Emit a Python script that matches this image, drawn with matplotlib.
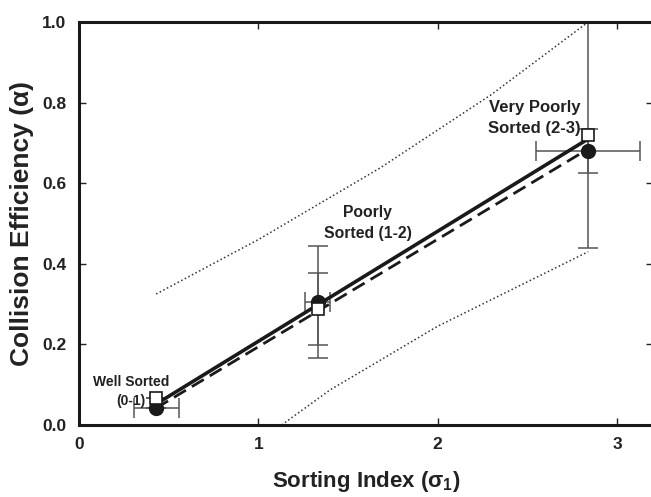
import numpy as np
import matplotlib
matplotlib.use("Agg")
import matplotlib.pyplot as plt

plt.rcParams['font.family'] = ['Liberation Sans', 'DejaVu Sans']
plt.rcParams['font.weight'] = 'bold'
plt.rcParams['mathtext.fontset'] = 'custom'
plt.rcParams['mathtext.rm'] = 'Liberation Sans:bold'
plt.rcParams['mathtext.it'] = 'Liberation Sans:bold'
plt.rcParams['mathtext.bf'] = 'Liberation Sans:bold'

# sorting classes
sort_x = [0.43, 1.33, 2.84]
sort_xerr = [0.125, 0.07, 0.29]

# filled circles
alpha_circ = [0.042, 0.305, 0.68]
err_circ = [0.0, 0.14, 0.055]

# open squares
alpha_sq = [0.067, 0.288, 0.72]
err_sq = [0.0, 0.09, 0.28]

# regression lines (end points)
fit_x = [0.43, 2.84]
fit_solid = [0.052, 0.71]
fit_dash = [0.042, 0.685]

# dotted bands
upper_x = [0.43, 1.0, 1.68, 2.3, 2.84]
upper_y = [0.325, 0.46, 0.638, 0.82, 1.0]
lower_x = [1.13, 1.40, 2.0, 2.84]
lower_y = [0.0, 0.087, 0.245, 0.43]

labels = ['Well Sorted\n(0-1)', 'Poorly\nSorted (1-2)', 'Very Poorly\nSorted (2-3)']
label_pos = [(0.29, 0.083), (1.61, 0.50), (2.54, 0.762)]
label_size = [10, 11.3, 12]

fig = plt.figure(figsize=(6.51, 4.97), dpi=100)
ax = fig.add_axes([0.1214, 0.1449, 0.8814, 0.8109])

errc = '#555555'
ax.errorbar(sort_x, alpha_circ, yerr=err_circ, xerr=sort_xerr, fmt='none',
            ecolor=errc, elinewidth=1.1, capsize=7, capthick=1.1, zorder=2)
ax.errorbar(sort_x, alpha_sq, yerr=err_sq, fmt='none',
            ecolor=errc, elinewidth=1.1, capsize=7, capthick=1.1, zorder=2)

ax.plot(upper_x, upper_y, ':', color='#333333', lw=1.1, zorder=1)
ax.plot(lower_x, lower_y, ':', color='#333333', lw=1.1, zorder=1)

ax.plot(fit_x, fit_solid, '-', color='#1a1a1a', lw=2.6, zorder=3)
ax.plot(fit_x, fit_dash, color='#1a1a1a', lw=2.0, dashes=[5, 2.5], zorder=3)

ax.plot(sort_x, alpha_circ, 'o', color='#1a1a1a', ms=10, zorder=4)
ax.plot(sort_x, alpha_sq, 's', mfc='white', mec='#1a1a1a', mew=1.2, ms=9, zorder=5)

for txt, (tx, ty), fs in zip(labels, label_pos, label_size):
    ax.text(tx, ty, txt, ha='center', va='center', fontsize=fs,
            fontweight='bold', color='#222222', linespacing=1.5)

ax.set_xlim(0, 3.2)
ax.set_ylim(0, 1.0)
ax.set_xticks([0, 1, 2, 3])
ax.set_yticks([0.0, 0.2, 0.4, 0.6, 0.8, 1.0])
ax.set_yticklabels(['0.0', '0.2', '0.4', '0.6', '0.8', '1.0'])
ax.tick_params(direction='in', length=5, width=1, top=True, right=True,
               labelsize=12.5, pad=9, colors='#222222')
for lab in ax.get_xticklabels() + ax.get_yticklabels():
    lab.set_fontweight('bold')
for sp in ax.spines.values():
    sp.set_linewidth(2.2)
    sp.set_color('#1a1a1a')

ax.set_xlabel(r'Sorting Index ($\sigma_1$)', fontsize=16, fontweight='bold',
              color='#222222', labelpad=12)
ax.set_ylabel('Collision Efficiency (α)', fontsize=19, fontweight='bold',
              color='#222222', labelpad=6)

fig.savefig('out.png', dpi=100)
